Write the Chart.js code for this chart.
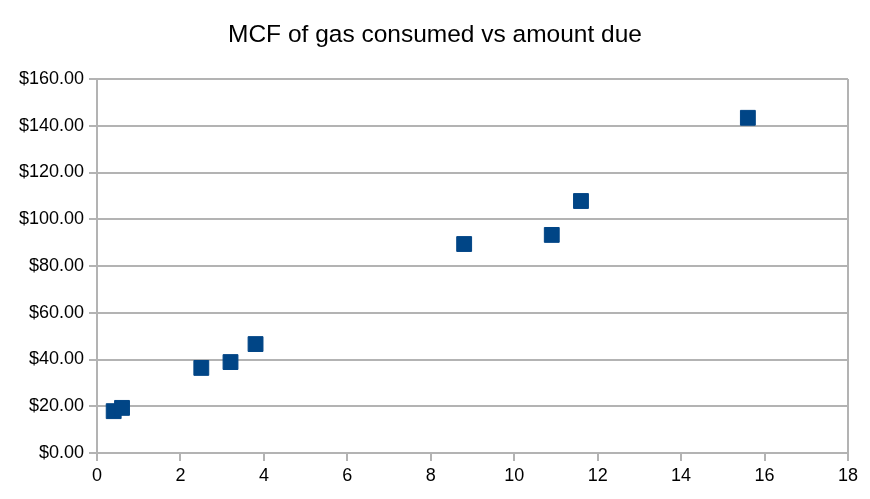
<!DOCTYPE html>
<html>
<head>
<meta charset="utf-8">
<script src="https://cdn.jsdelivr.net/npm/chart.js@4"></script>
<style>
  html, body { margin: 0; padding: 0; background: #ffffff; }
  #wrap { width: 870px; height: 499px; }
</style>
</head>
<body>
<div id="wrap"><canvas id="c" width="870" height="499"></canvas></div>
<script>
const chartTitle = "MCF of gas consumed vs amount due";
const mcf = [0.4, 0.6, 2.5, 3.2, 3.8, 8.8, 10.9, 11.6, 15.6];
const amountDue = [17.9, 19.3, 36.4, 38.9, 46.6, 89.4, 93.3, 107.8, 143.4];
const xTicks = [0, 2, 4, 6, 8, 10, 12, 14, 16, 18];
const yTicks = [0, 20, 40, 60, 80, 100, 120, 140, 160];

const points = mcf.map((x, i) => ({ x: x, y: amountDue[i] }));
const gridGray = '#b3b3b3';
const font = 'Liberation Sans, Arial, sans-serif';

new Chart(document.getElementById('c'), {
  type: 'scatter',
  data: {
    datasets: [{
      label: 'Amount due',
      data: points,
      pointStyle: 'rect',
      pointRadius: 10.5,
      pointHoverRadius: 10.5,
      backgroundColor: '#004586',
      borderColor: '#004586',
      borderWidth: 1
    }]
  },
  options: {
    responsive: false,
    animation: false,
    devicePixelRatio: 1,
    layout: { padding: 0 },
    plugins: {
      legend: { display: false },
      tooltip: { enabled: false },
      title: {
        display: true,
        text: chartTitle,
        color: '#000000',
        font: { family: font, size: 24.5, weight: 'normal' },
        padding: { top: 21, bottom: 28.6 }
      }
    },
    scales: {
      x: {
        type: 'linear',
        min: xTicks[0],
        max: xTicks[xTicks.length - 1],
        afterBuildTicks: s => { s.ticks = xTicks.map(v => ({ value: v })); },
        afterFit: s => { s.height = 46; },
        ticks: {
          color: '#000000',
          font: { family: font, size: 18 },
          padding: 4
        },
        border: { color: gridGray, width: 2 },
        grid: {
          color: c => (c.tick && c.tick.value === xTicks[xTicks.length - 1]) ? gridGray : 'rgba(0,0,0,0)',
          tickColor: gridGray,
          tickLength: 8,
          lineWidth: 2
        }
      },
      y: {
        type: 'linear',
        min: yTicks[0],
        max: yTicks[yTicks.length - 1],
        afterBuildTicks: s => { s.ticks = yTicks.map(v => ({ value: v })); },
        afterFit: s => { s.width = 97; },
        ticks: {
          color: '#000000',
          font: { family: font, size: 18 },
          padding: 5,
          callback: v => '$' + Number(v).toFixed(2)
        },
        border: { color: gridGray, width: 2 },
        grid: {
          color: gridGray,
          tickColor: gridGray,
          tickLength: 8,
          lineWidth: 2
        }
      },
      spacer: {
        type: 'linear',
        position: 'right',
        display: true,
        min: 0,
        max: 1,
        afterFit: s => { s.width = 22; },
        ticks: { display: false },
        border: { display: false },
        grid: { display: false, drawTicks: false }
      }
    }
  }
});
</script>
</body>
</html>
